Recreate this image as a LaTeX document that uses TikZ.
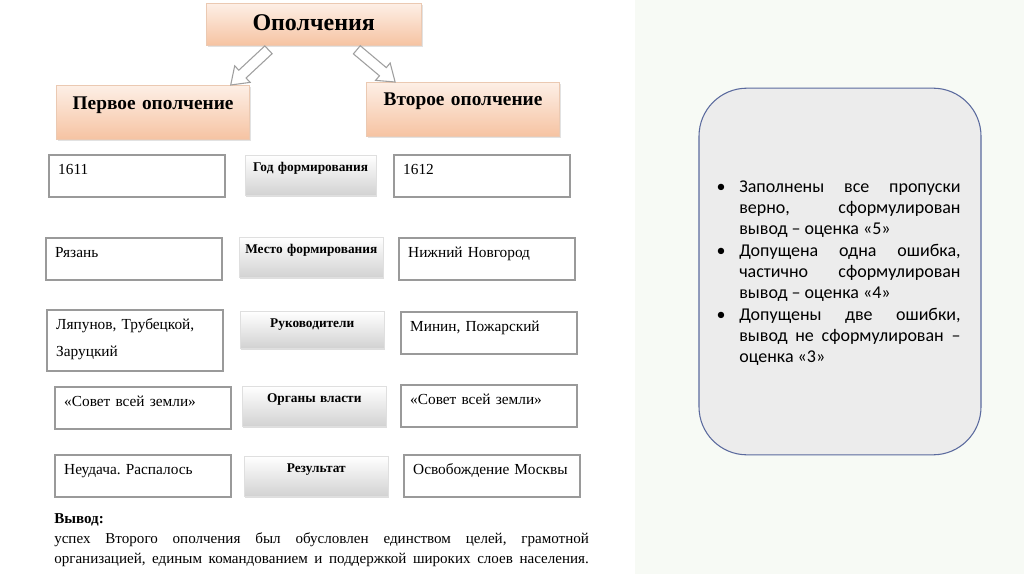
\documentclass[tikz,border=0pt]{standalone}
\usepackage{fontspec}
\setmainfont{Liberation Serif}
\newfontfamily\notefont{Carlito}
\usepackage{xcolor}
\usepackage{tikz}
\usetikzlibrary{positioning, calc, shadows}

\definecolor{peachtop}{HTML}{FDEFE6}
\definecolor{peachbot}{HTML}{F6C3A2}
\definecolor{peachline}{HTML}{EBC9B2}
\definecolor{cellline}{HTML}{9A9A9A}
\definecolor{fieldbot}{HTML}{D2D2D2}
\definecolor{pagebg}{HTML}{F7FAF5}
\definecolor{panelfill}{HTML}{ECECEC}
\definecolor{panelline}{HTML}{5B6A9E}

\newcommand{\notebullet}{\leavevmode\llap{\makebox[17pt][l]{•}}}

\begin{document}
\begin{tikzpicture}[
    x=0.75pt, y=-0.75pt,
    font=\fontsize{12}{20}\selectfont,
    header/.style={
        rectangle,
        draw=peachline,
        line width=0.6pt,
        top color=peachtop,
        bottom color=peachbot,
        drop shadow={shadow xshift=1.2pt, shadow yshift=-1.2pt, fill=gray!45},
        anchor=north west,
        inner sep=0pt,
        align=center,
        text width=145pt,
        text height=18pt,
        text depth=22.5pt,
        font=\bfseries\fontsize{14.5}{18}\selectfont
    },
    field/.style={
        rectangle,
        draw=gray!25,
        line width=0.4pt,
        top color=white,
        bottom color=fieldbot,
        drop shadow={shadow xshift=0.8pt, shadow yshift=-1.5pt, fill=gray!50},
        anchor=north west,
        inner sep=0pt,
        align=center,
        text width=108pt,
        text height=12.5pt,
        text depth=17.5pt,
        font=\bfseries\fontsize{10}{12}\selectfont
    },
    cell/.style={
        rectangle,
        draw=cellline,
        line width=1.8pt,
        fill=white,
        anchor=north west,
        inner xsep=6.75pt,
        inner ysep=0pt,
        text width=118.5pt,
        align=left,
        text height=14.5pt,
        text depth=17pt,
        font=\fontsize{11.5}{20}\selectfont\frenchspacing
    },
    blockarr/.style={draw=gray!75, fill=white, line width=0.8pt, line join=miter},
    panel/.style={
        rectangle,
        rounded corners=36pt,
        draw=panelline,
        line width=0.8pt,
        fill=panelfill,
        minimum width=211.5pt,
        minimum height=275pt
    },
    notes/.style={
        anchor=west,
        inner sep=0pt,
        text width=166pt,
        align=justify,
        font=\notefont\fontsize{13.5}{16}\selectfont
    }
]
\useasboundingbox (0,0) rectangle (1024,574);
\fill[white]  (0,0)   rectangle (635,574);
\fill[pagebg] (635,0) rectangle (1024,574);

% headers
\node[header, text width=161pt, text height=20.5pt, text depth=11pt,
      font=\bfseries\fontsize{18}{20}\selectfont] (top) at (206,3) {Ополчения};
\node[header] (first)  at (56,85)  {Первое ополчение};
\node[header, text height=17.2pt, text depth=23.3pt] (second) at (366,82) {Второе ополчение};

% block arrows
\coordinate (ls) at ([yshift=-3pt]$(top.south west)!0.29!(top.south east)$);
\coordinate (le) at ($(first.north west)!0.9!(first.north east)$);
\coordinate (rs) at ([yshift=-3pt]$(top.south west)!0.70!(top.south east)$);
\coordinate (re) at ($(second.north west)!0.15!(second.north east)$);
\foreach \s/\e in {ls/le, rs/re}{
    \coordinate (h) at ($(\e)!12pt!(\s)$);
    \draw[blockarr] ($(\s)!4pt!90:(\e)$) -- ($(h)!4pt!90:(\e)$)
        -- ($(h)!8.5pt!90:(\e)$) -- (\e) -- ($(h)!8.5pt!-90:(\e)$)
        -- ($(h)!4pt!-90:(\e)$) -- ($(\s)!4pt!-90:(\e)$) -- cycle;
}

% row 1
\node[cell]  (year1) at (48,154)  {1611};
\node[field, text width=98pt] (year) at (245,155) {Год формирования};
\node[cell]  (year2) at (393,154) {1612};
% row 2
\node[cell]  (place1) at (45,237)  {Рязань};
\node[field] (place)  at (239,237) {Место формирования};
\node[cell]  (place2) at (398,237) {Нижний Новгород};
% row 3
\node[cell, text depth=31.25pt] (lead1) at (46,309) {Ляпунов, Трубецкой,\\Заруцкий};
\node[field, text depth=15pt] (lead) at (240,311) {Руководители};
\node[cell]  (lead2) at (400,311) {Минин, Пожарский};
% row 4
\node[cell]  (power1) at (54,386)  {«Совет всей земли»};
\node[field] (power)  at (242,386) {Органы власти};
\node[cell]  (power2) at (400,384) {«Совет всей земли»};
% row 5
\node[cell]  (res1) at (54,454)  {Неудача. Распалось};
\node[field] (res)  at (244,456) {Результат};
\node[cell]  (res2) at (403,454) {Освобождение Москвы};

% conclusion
\node[anchor=base west, inner sep=0pt, text width=401pt, align=justify,
      font=\fontsize{11.3}{15}\selectfont\frenchspacing] (concl) at (54,523)
    {\hyphenpenalty=10000 \spaceskip=0.2em plus 0.4em minus 0.05em
     \parfillskip=0pt \textbf{Вывод:}\\ успех Второго ополчения был обусловлен единством целей, грамотной\linebreak
     организацией, единым командованием и поддержкой широких слоев населения.\par};

% grading panel
\node[panel] (panel) at (840,271.5) {};
\node[notes] (rules) at (739,273)
    {\hyphenpenalty=10000
     \notebullet Заполнены все пропуски\linebreak верно, сформулирован\linebreak вывод – оценка «5»\par
     \notebullet Допущена одна ошибка,\linebreak частично сформулирован\linebreak вывод – оценка «4»\par
     \notebullet Допущены две ошибки,\linebreak вывод не сформулирован –\linebreak оценка «3»\par};
\end{tikzpicture}
\end{document}
